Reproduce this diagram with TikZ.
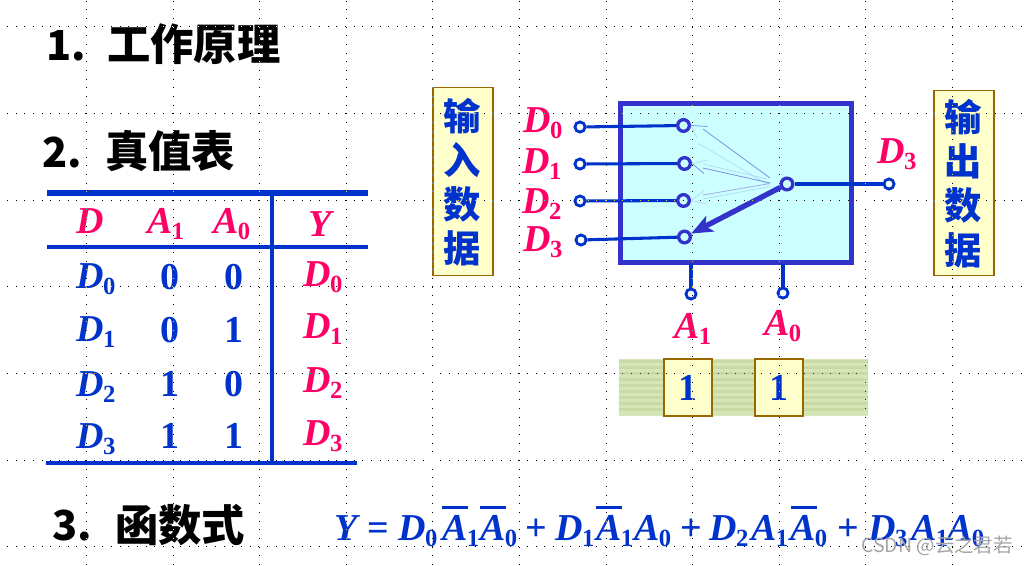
\documentclass[tikz,border=0pt]{standalone}
\usepackage{fontspec}
\setmainfont{Liberation Serif}
\newfontfamily\cjk{Noto Sans CJK SC}
\usetikzlibrary{arrows.meta}
\definecolor{navy}{HTML}{0033CC}
\definecolor{boxblue}{HTML}{3333CC}
\definecolor{rose}{HTML}{FF0066}
\definecolor{paper}{HTML}{FFFFCC}
\definecolor{brown}{HTML}{996600}
\definecolor{cyanfill}{HTML}{CCFFFF}
\definecolor{stripea}{HTML}{C8DBA4}
\definecolor{stripeb}{HTML}{D6E6B6}
\definecolor{ghosta}{HTML}{7F8FE6}
\definecolor{ghostb}{HTML}{B5DCF5}
\newcommand{\fs}{\fontsize{28.5pt}{30pt}\selectfont\bfseries}
\newcommand{\V}[2]{{\fs\itshape #1}\kern-0.5pt\raisebox{-5pt}{\fontsize{18.5pt}{20pt}\selectfont\bfseries #2}}
\tikzset{
  x=0.75pt,y=-0.75pt,
  griddot/.style={line width=0.75pt,dash pattern=on 0.85pt off 5.65pt,white},
  head/.style={anchor=base west,inner sep=0,font=\cjk\fontsize{32.5pt}{34pt}\selectfont\bfseries},
  num/.style={anchor=base west,inner sep=0,font=\cjk\fontsize{31pt}{33pt}\selectfont\bfseries},
  rosev/.style={anchor=base west,inner sep=0,text=rose},
  bluev/.style={anchor=base west,inner sep=0,text=navy},
  digit/.style={anchor=base,inner sep=0,text=navy,font=\fs},
  sidebox/.style={draw=brown,fill=paper,line width=0.8pt,minimum width=45pt,minimum height=141pt,inner sep=0},
  sidech/.style={inner sep=0,text=navy,font=\cjk\fontsize{28pt}{28pt}\selectfont\bfseries},
  valbox/.style={draw=brown,fill=paper,line width=1.6pt,minimum width=36pt,minimum height=42.5pt,inner sep=0,text=navy,font=\fs},
  port/.style={circle,draw=navy,fill=white,line width=2.1pt,minimum size=7.6pt,inner sep=0},
  term/.style={circle,draw=boxblue,fill=cyanfill,line width=2.5pt,minimum size=8.75pt,inner sep=0},
  wire/.style={navy,line width=2.3pt},
  ghostdark/.style={draw=ghosta,line width=0.6pt},
  ghostlight/.style={draw=ghostb,line width=0.6pt},
  rulebar/.style={navy,line cap=butt},
  oline/.style={navy,line width=1.7pt},
}
\begin{document}
\begin{tikzpicture}
\useasboundingbox (0,0) rectangle (1028,565);
\fill[white] (0,0) rectangle (1028,565);
% headings
\node[num] at (46,60) {1.};
\node[head] at (107,60) {工作原理};
\node[num] at (42,167) {2.};
\node[head] at (105,167) {真值表};
\node[num] at (52,540) {3.};
\node[head] at (115,541) {函数式};
% table
\coordinate (t1) at (47,193); \coordinate (t2) at (368,193);
\coordinate (m1) at (47,247); \coordinate (m2) at (368,247);
\coordinate (b1) at (46,463); \coordinate (b2) at (357,463);
\coordinate (v1) at (272,193); \coordinate (v2) at (272,465);
\draw[rulebar,line width=3.8pt] (t1) -- (t2);
\draw[rulebar,line width=2.3pt] (m1) -- (m2);
\draw[rulebar,line width=3.6pt] (b1) -- (b2);
\draw[rulebar,line width=2.3pt] (v1) -- (v2);
\node[rosev] at (76,233) {\fs\itshape D};
\node[rosev] at (147,233) {\V{A}{1}};
\node[rosev] at (213,233) {\V{A}{0}};
\node[rosev] at (308,236) {\fs\itshape Y};
\node[bluev] at (76,288) {\V{D}{0}};
\node[bluev] at (76,341) {\V{D}{1}};
\node[bluev] at (76,396) {\V{D}{2}};
\node[bluev] at (76,448) {\V{D}{3}};
\node[rosev] at (303,286) {\V{D}{0}};
\node[rosev] at (303,338) {\V{D}{1}};
\node[rosev] at (303,392) {\V{D}{2}};
\node[rosev] at (303,445) {\V{D}{3}};
\node[digit] at (170,289) {0};
\node[digit] at (234,289) {0};
\node[digit] at (170,342) {0};
\node[digit] at (234,342) {1};
\node[digit] at (170,396) {1};
\node[digit] at (234,396) {0};
\node[digit] at (170,448) {1};
\node[digit] at (234,448) {1};
% side boxes
\node[sidebox] (inbox) at (463,181.5) {};
\node[sidech] at (462,116) {输};
\node[sidech] at (462,160) {入};
\node[sidech] at (462,204) {数};
\node[sidech] at (462,248) {据};
\node[sidebox,minimum height=139pt] (outbox) at (964,183) {};
\node[sidech] at (963,117) {输};
\node[sidech] at (963,161) {出};
\node[sidech] at (963,205) {数};
\node[sidech] at (963,250) {据};
% selector box
\node[draw=boxblue,fill=cyanfill,line width=3.4pt,minimum width=173pt,minimum height=119pt,inner sep=0] (mux) at (736,183) {};
% terminals
\node[term] (i0) at (683.5,125.5) {};
\node[term] (i1) at (684.5,163.5) {};
\node[term] (i2) at (683.5,200.5) {};
\node[term] (i3) at (684.5,237) {};
\node[term] (piv) at (787,184) {};
\node[port] (p0) at (580,127) {};
\node[port] (p1) at (580,164) {};
\node[port] (p2) at (580,201) {};
\node[port] (p3) at (581,240) {};
\node[port] (out) at (889,184) {};
\node[port] (a1) at (691,294) {};
\node[port] (a0) at (783,293) {};
\coordinate (m1t) at (691,264); \coordinate (m0t) at (783,264);
\draw[wire] (p0) -- (i0);
\draw[wire] (p1) -- (i1);
\draw[wire] (p2) -- (i2);
\draw[wire] (p3) -- (i3);
\draw[wire] (piv) -- (out);
\draw[wire,line width=2.4pt] (m1t) -- (a1);
\draw[wire,line width=2.4pt] (m0t) -- (a0);
% ghost positions of the lever
\coordinate (g0s) at (770,178); \coordinate (g0e) at (703,129); \coordinate (g0b) at (707.5,126.5); \coordinate (g0l) at (697,138);
\coordinate (g1s) at (770,183); \coordinate (g1e) at (703,168); \coordinate (g1b) at (704,173.5); \coordinate (g1l) at (707.5,160);
\coordinate (g2s) at (770,183.5); \coordinate (g2e) at (703,195); \coordinate (g2b) at (704,191); \coordinate (g2l) at (707.5,204);
\draw[ghostdark] (g0s) -- (g0e);
\draw[ghostdark] (i0.east) -- (g0b);
\draw[ghostlight] (i0.east) -- (g0l);
\draw[ghostlight] (g0s) ++(-3,6) -- ([xshift=1pt,yshift=-4pt]g0l);
\draw[ghostdark] (g1s) -- (g1e);
\draw[ghostdark] (i1.east) -- (g1b);
\draw[ghostlight] (i1.east) -- (g1l);
\draw[ghostlight] (g1s) ++(-3,-4) -- ([yshift=3pt]g1e);
\draw[ghostdark,draw=ghosta!75] (g2s) -- (g2e);
\draw[ghostlight] (g2s) ++(0,3) -- ([yshift=-3pt]g2e);
\draw[ghostlight] (i2.east) -- (g2b);
\draw[ghostlight] (i2.east) -- (g2l);
\draw[boxblue,line width=4pt,-{Stealth[length=16pt,width=13pt,inset=4pt]}] (piv) -- (i3);
% pins labels
\node[rosev] at (523,132) {\V{D}{0}};
\node[rosev] at (522,173) {\V{D}{1}};
\node[rosev] at (522,213) {\V{D}{2}};
\node[rosev] at (523,251) {\V{D}{3}};
\node[rosev] at (877,163) {\V{D}{3}};
\node[rosev] at (674,338) {\V{A}{1}};
\node[rosev] at (764,335) {\V{A}{0}};
% strip
\fill[stripeb] (619,359) rectangle (868,416);
\foreach \sy in {360,366,...,412}
  \fill[stripea] (619,\sy) rectangle (868,\sy+3);
\node[valbox] (v1b) at (688,387.5) {1};
\node[valbox] (v0b) at (779,387.5) {1};
% formula
\node[bluev] at (334,540) {\fs\itshape Y};
\node[bluev] at (367,540) {\fs =};
\node[bluev] at (398,540) {\V{D}{0}};
\node[bluev] at (442,540) {\V{A}{1}};
\node[bluev] at (480,540) {\V{A}{0}};
\node[bluev] at (525,540) {\fs +};
\node[bluev] at (555,540) {\V{D}{1}};
\node[bluev] at (596,540) {\V{A}{1}};
\node[bluev] at (634,540) {\V{A}{0}};
\node[bluev] at (680,540) {\fs +};
\node[bluev] at (709,540) {\V{D}{2}};
\node[bluev] at (751,540) {\V{A}{1}};
\node[bluev] at (790,540) {\V{A}{0}};
\node[bluev] at (837,540) {\fs +};
\node[bluev] at (868,540) {\V{D}{3}};
\node[bluev] at (911,540) {\V{A}{1}};
\node[bluev] at (947,540) {\V{A}{0}};
\draw[oline] (442,507.5) -- (468,507.5);
\draw[oline] (480,507.5) -- (506,507.5);
\draw[oline] (596,507.5) -- (622,507.5);
\draw[oline] (791,507.5) -- (817,507.5);
% watermark
\node[anchor=base west,inner sep=0,text=gray!70,font=\cjk\fontsize{14.6pt}{15pt}\selectfont] at (861,552) {CSDN @云之君若};
% dotted slide grid, inverting whatever lies beneath
\begin{scope}[blend mode=difference]
\foreach \gx in {86.7,173.3,259.5,346,432.7,519,606.5,692.5,779,865.4,952.2}
  \draw[griddot] (\gx,0.5) -- (\gx,565);
\foreach \gy in {26.3,113,200,286.5,373,460,546.3}
  \draw[griddot] (7,\gy) -- (1024,\gy);
\end{scope}
\end{tikzpicture}
\end{document}
